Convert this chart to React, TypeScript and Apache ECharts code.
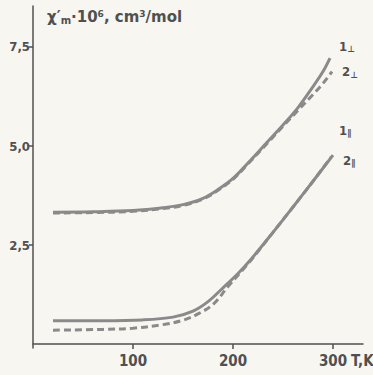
import React, { useEffect, useRef } from "react";
import * as echarts from "echarts";

// Temperatures (K) and susceptibilities (x10^6 cm3/mol)
const t1Perp = [20, 60, 100, 130, 150, 170, 185, 200, 215, 235, 250, 265, 280, 290, 297];
const v1Perp = [3.33, 3.34, 3.37, 3.44, 3.52, 3.68, 3.9, 4.18, 4.57, 5.12, 5.53, 5.97, 6.5, 6.88, 7.22];
const t2Perp = [20, 60, 100, 130, 150, 170, 185, 200, 215, 235, 250, 265, 280, 290, 299];
const v2Perp = [3.31, 3.32, 3.35, 3.42, 3.5, 3.66, 3.88, 4.16, 4.55, 5.09, 5.5, 5.9, 6.3, 6.58, 6.88];
const t1Par = [20, 70, 110, 140, 160, 175, 190, 205, 220, 240, 260, 280, 300];
const v1Par = [0.59, 0.59, 0.61, 0.68, 0.83, 1.07, 1.42, 1.78, 2.2, 2.82, 3.46, 4.11, 4.77];
const t2Par = [20, 70, 100, 130, 150, 165, 180, 195, 210, 220, 240, 260, 280, 298];
const v2Par = [0.35, 0.37, 0.4, 0.49, 0.6, 0.76, 1.0, 1.45, 1.88, 2.18, 2.82, 3.46, 4.11, 4.72];

const xTicks = [100, 200, 300];
const yTicks = [2.5, 5, 7.5];
const seriesNames = ["1⊥", "2⊥", "1∥", "2∥"];

const NARROW = "'DejaVu Sans Condensed', 'Liberation Sans Narrow', 'DejaVu Sans', sans-serif";
const WIDE = "'DejaVu Sans', sans-serif";
const INK = "#505050";
const CURVE = "#8a8a8a";
const PAPER = "#f7f6f1";

const zip = (t: number[], v: number[]) => t.map((x, i) => [x, v[i]]);

export default function App() {
  const ref = useRef<HTMLDivElement>(null);
  useEffect(() => {
    document.body.style.margin = "0";
    document.body.style.background = PAPER;
    const chart = echarts.init(ref.current!, null, { renderer: "svg" });
    const labelRich = {
      n: { fontFamily: NARROW, fontWeight: "bold", fontSize: 13, color: INK },
      s: { fontFamily: NARROW, fontWeight: "bold", fontSize: 9, color: INK, padding: [6, 0, 0, 0] },
    };
    const mk = (name: string, data: number[][], dashed: boolean, offset: number[]) => ({
      name,
      type: "line",
      data,
      smooth: 0.35,
      showSymbol: false,
      lineStyle: { color: CURVE, width: 3, type: dashed ? [7, 4] : "solid" },
      endLabel: {
        show: true,
        offset,
        color: INK,
        formatter: () => `{n|${name[0]}}{s|${name.slice(1)}}`,
        rich: labelRich,
      },
    });
    chart.setOption({
      animation: false,
      backgroundColor: PAPER,
      grid: { left: 33, right: 10, top: 6, bottom: 27 },
      xAxis: {
        type: "value",
        min: 0,
        max: 330,
        splitLine: { show: false },
        axisLine: { lineStyle: { color: INK, width: 1.5 } },
        axisTick: { customValues: xTicks, length: 5, lineStyle: { color: INK, width: 1.5 } },
        axisLabel: {
          customValues: xTicks,
          fontFamily: NARROW,
          fontWeight: "bold",
          fontSize: 15,
          color: INK,
          margin: 5,
        },
      },
      yAxis: {
        type: "value",
        min: -0.1,
        max: 8.535,
        splitLine: { show: false },
        axisLine: { lineStyle: { color: INK, width: 1.5 } },
        axisTick: { customValues: yTicks, length: 4, lineStyle: { color: INK, width: 1.5 } },
        axisLabel: {
          customValues: yTicks,
          formatter: (v: number) => v.toFixed(1).replace(".", ","),
          fontFamily: NARROW,
          fontWeight: "bold",
          fontSize: 13,
          color: INK,
          margin: 3,
        },
      },
      graphic: [
        {
          type: "text",
          left: 47,
          top: 9,
          style: {
            text: "{a|χ′}{b|m}{a|·10}{c|6}{a|, cm}{c|3}{a|/mol}",
            rich: {
              a: { fontFamily: WIDE, fontWeight: "bold", fontSize: 15, fill: INK },
              b: { fontFamily: WIDE, fontWeight: "bold", fontSize: 10, fill: INK, padding: [7, 0, 0, 0] },
              c: { fontFamily: WIDE, fontWeight: "bold", fontSize: 9, fill: INK, padding: [0, 0, 7, 0] },
            },
          },
        },
        {
          type: "text",
          left: 351,
          top: 353,
          style: { text: "T,K", fontFamily: NARROW, fontWeight: "bold", fontSize: 15, fill: INK },
        },
      ],
      series: [
        mk(seriesNames[0], zip(t1Perp, v1Perp), false, [1, -12]),
        mk(seriesNames[1], zip(t2Perp, v2Perp), true, [2, 0]),
        mk(seriesNames[2], zip(t1Par, v1Par), false, [-2, -25]),
        mk(seriesNames[3], zip(t2Par, v2Par), true, [4, 3]),
      ],
    });
    return () => chart.dispose();
  }, []);
  return <div ref={ref} style={{ width: 373, height: 375 }} />;
}
